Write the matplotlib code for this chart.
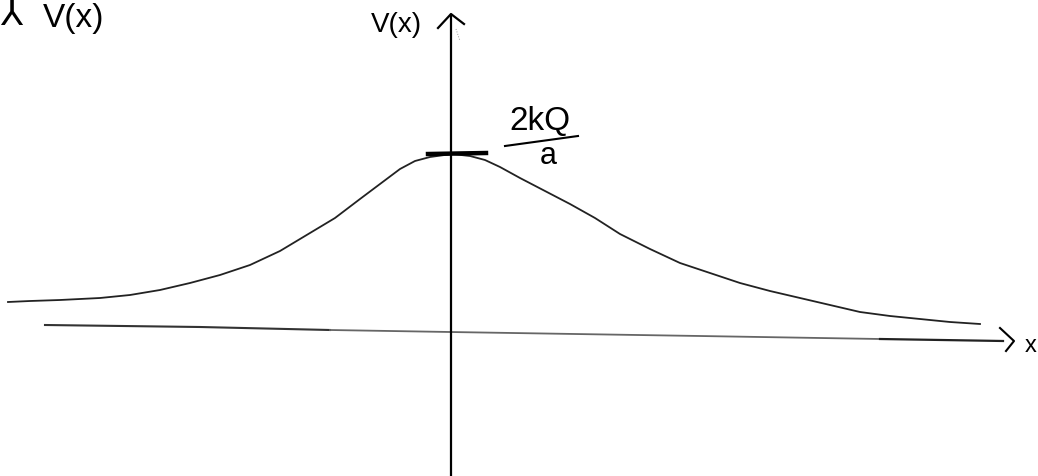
# hand sketch of V(x) with peak 2kQ/a
import matplotlib
matplotlib.use("Agg")
import matplotlib.pyplot as plt

# curve (pixel coords)
curve_x = [8, 30, 60, 100, 130, 160, 190, 220, 250, 280, 310, 335, 360, 380, 400, 415, 430, 452, 470, 485, 500, 520, 545, 570, 595, 620, 650, 680, 710, 740, 770, 800, 830, 860, 890, 920, 950, 980]
curve_y = [303, 302, 301, 299, 296, 291, 284, 276, 266, 252, 234, 219, 200, 185, 170, 162, 158, 155, 157, 161, 168, 179, 192, 205, 219, 235, 250, 264, 274, 284, 292, 299, 306, 313, 317, 320, 323, 325]

# horizontal axis, darker at both ends than in the middle
axis_left_x = [45, 200, 330]
axis_left_y = [326, 328, 331]
axis_mid_x = [330, 450, 700, 880]
axis_mid_y = [331, 333, 337, 340]
axis_right_x = [880, 1003]
axis_right_y = [340, 342]
arrow_x = [1000, 1014, 1006]
arrow_y = [329, 342, 352]

# vertical axis
vert_x = [451, 451, 451]
vert_y = [477, 200, 16]
vert_head_x = [438, 451, 464]
vert_head_y = [29, 15, 25]
speck_x = [456, 460]
speck_y = [30, 42]

# peak tick and fraction bar
peak_x = [428, 486]
peak_y = [155, 154]
frac_x = [505, 578]
frac_y = [147, 137]

fig = plt.figure(figsize=(10.38, 4.77), dpi=100)
ax = fig.add_axes([0, 0, 1, 1])
ax.set_xlim(0, 1038)
ax.set_ylim(477, 0)
ax.axis("off")

ax.plot(curve_x, curve_y, c="#222222", lw=1.3)
ax.plot(axis_left_x, axis_left_y, c="#333333", lw=1.5)
ax.plot(axis_mid_x, axis_mid_y, c="#666666", lw=1.3)
ax.plot(axis_right_x, axis_right_y, c="#222222", lw=1.6)
ax.plot(arrow_x, arrow_y, c="k", lw=1.5)
ax.plot(vert_x, vert_y, c="k", lw=1.6)
ax.plot(vert_head_x, vert_head_y, c="k", lw=1.6)
ax.plot(speck_x, speck_y, c="#999999", lw=0.7, ls=":")
ax.plot(peak_x, peak_y, c="k", lw=3.2)
ax.plot(frac_x, frac_y, c="k", lw=1.5)

ax.text(396, 25, "V(x)", fontsize=20, ha="center", va="center", family="Liberation Sans")
ax.text(74, 18, "V(x)", fontsize=24, ha="center", va="center", family="Liberation Sans")
ax.text(11, 15, "\u2144", fontsize=26, ha="center", va="center", family="DejaVu Sans")
ax.text(540, 121, "2kQ", fontsize=24, ha="center", va="center", family="Liberation Sans")
ax.text(548, 156, "a", fontsize=22, ha="center", va="center", family="Liberation Sans")
ax.text(1037, 346, "x", fontsize=17, ha="right", va="center", family="Liberation Sans")

fig.savefig("out.png", dpi=100)
